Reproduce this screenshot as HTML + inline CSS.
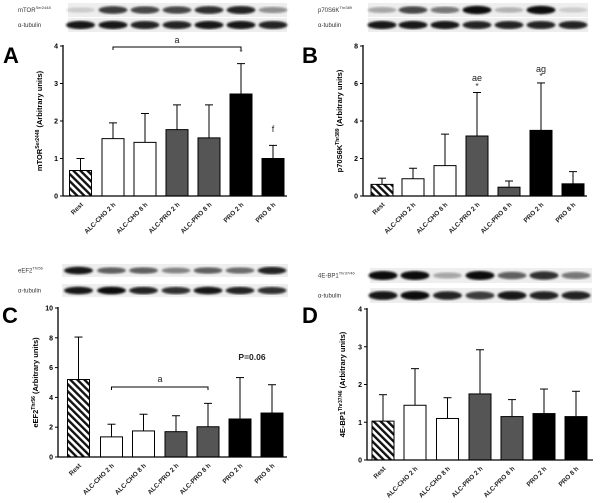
<!DOCTYPE html>
<html><head><meta charset="utf-8"><style>
html,body{margin:0;padding:0;background:#fff;}
svg{display:block;font-family:"Liberation Sans",Arial,sans-serif;}
</style></head><body>
<svg id="s" width="600" height="503" viewBox="0 0 600 503" xmlns="http://www.w3.org/2000/svg">
<defs>
<pattern id="hatch" patternUnits="userSpaceOnUse" width="5" height="5" patternTransform="rotate(-45)">
<rect width="5" height="5" fill="#fff"/><rect width="2.4" height="5" fill="#111"/>
</pattern>
<filter id="blur"><feGaussianBlur stdDeviation="1.1"/></filter>
</defs>
</svg>
<script>
const S=document.getElementById('s');const NS='http://www.w3.org/2000/svg';
function el(t,a,txt){const e=document.createElementNS(NS,t);for(const k in a)e.setAttribute(k,a[k]);if(txt!==undefined)e.textContent=txt;S.appendChild(e);return e;}
const names=['Rest','ALC-CHO 2 h','ALC-CHO 8 h','ALC-PRO 2 h','ALC-PRO 8 h','PRO 2 h','PRO 8 h'];
const fills=['url(#hatch)','#fff','#fff','#555','#555','#000','#000'];
function blot(x0,x1,y,h,centers,op){
  el('rect',{x:x0,y:y,width:x1-x0,height:h,fill:'#eeeeee'});
  centers.forEach((c,i)=>{if(op[i]>0)el('ellipse',{cx:c,cy:y+h/2,rx:14.5,ry:h*0.28*(0.6+op[i]*0.5),fill:'#000','fill-opacity':op[i],filter:'url(#blur)'});});
}
function panel(p){
  const {ax,y0,ytop,xend,max,step,centers,vals,errs,letter,lx,ly,sup}=p;
  const sc=(y0-ytop)/max;
  blot(p.bx0,p.bx1,p.b1y,p.bh,centers,p.b1);
  blot(p.bx0,p.bx1,p.b2y,p.bh,centers,p.b2);
  const t1=el('text',{x:p.blx,y:p.b1y+p.bh/2+2,'font-size':6,fill:'#333'});t1.textContent=p.bname;
  el('tspan',{'font-size':4,dy:-3},sup);t1.appendChild(S.lastChild);
  el('text',{x:p.blx,y:p.b2y+p.bh/2+2,'font-size':6,fill:'#333'},'α-tubulin');
  el('text',{x:lx,y:ly,'font-size':22,'font-weight':'bold'},letter);
  centers.forEach((c,i)=>{
    const ty=y0-errs[i]*sc, by=y0-vals[i]*sc;
    el('line',{x1:c,y1:by,x2:c,y2:ty,stroke:'#000','stroke-width':1});
    el('line',{x1:c-4,y1:ty,x2:c+4,y2:ty,stroke:'#000','stroke-width':1});
    el('rect',{x:c-11,y:by,width:22,height:y0-by,fill:fills[i],stroke:'#000','stroke-width':1});
    el('text',{x:c+3,y:y0+9,'font-size':6.5,'font-weight':'bold','text-anchor':'end',transform:`rotate(-45 ${c+3} ${y0+9})`,fill:'#222'},names[i]);
  });
  el('line',{x1:ax,y1:ytop-1,x2:ax,y2:y0,stroke:'#000','stroke-width':1.3});
  el('line',{x1:ax,y1:y0,x2:xend,y2:y0,stroke:'#000','stroke-width':1.3});
  for(let v=0;v<=max;v+=step){const y=y0-v*sc;
    el('line',{x1:ax-3,y1:y,x2:ax,y2:y,stroke:'#000','stroke-width':1});
    el('text',{x:ax-5,y:y+2.5,'font-size':7,'font-weight':'bold','text-anchor':'end'},v);}
  const yc=(y0+ytop)/2;
  const t=el('text',{x:p.ylx,y:yc,'font-size':7.5,'font-weight':'bold','text-anchor':'middle',transform:`rotate(-90 ${p.ylx} ${yc})`});
  t.textContent=p.bname;const ts=document.createElementNS(NS,'tspan');ts.setAttribute('font-size',5);ts.setAttribute('dy',-3);ts.textContent=sup;t.appendChild(ts);
  const ts2=document.createElementNS(NS,'tspan');ts2.setAttribute('dy',3);ts2.textContent=' (Arbitrary units)';t.appendChild(ts2);
  (p.extra||[]).forEach(f=>f(sc));
}
function bracket(x1,x2,y){el('path',{d:`M${x1} ${y+3}V${y}H${x2}V${y+3}`,fill:'none',stroke:'#000','stroke-width':1});}
function txt(x,y,s,o){el('text',Object.assign({x:x,y:y,'font-size':9,'text-anchor':'middle',fill:'#222'},o||{}),s);}
const cA=[80.5,113,145,177,209,241,273];
panel({ax:63,y0:196,ytop:46,xend:287,max:4,step:1,centers:cA,
 vals:[0.68,1.53,1.43,1.77,1.55,2.72,1.0],errs:[1.0,1.95,2.2,2.43,2.43,3.53,1.35],
 letter:'A',lx:3,ly:63,bname:'mTOR',sup:'Ser2448',ylx:42,
 bx0:68,bx1:287,b1y:3,b2y:18,bh:14,blx:18,b1:[0.15,0.75,0.7,0.7,0.8,0.85,0.4],b2:[0.9,0.9,0.85,0.85,0.9,0.9,0.85],
 extra:[()=>{bracket(113,241,47);txt(177,43,'a');txt(241,55,'*',{'font-size':8});txt(273,132,'f');}]});
const cB=[382,413,445,477,509,541,573];
panel({ax:363,y0:196,ytop:46,xend:587,max:8,step:2,centers:cB,
 vals:[0.62,0.92,1.62,3.2,0.47,3.5,0.65],errs:[0.95,1.48,3.3,5.52,0.8,6.03,1.3],
 letter:'B',lx:302,ly:63,bname:'p70S6K',sup:'Thr389',ylx:342,
 bx0:368,bx1:588,b1y:3,b2y:18,bh:14,blx:318,b1:[0.3,0.7,0.5,0.95,0.25,0.95,0.15],b2:[0.9,0.9,0.9,0.85,0.85,0.85,0.85],
 extra:[()=>{txt(477,81,'ae');txt(477,89,'*',{'font-size':8});txt(541,72,'ag');txt(541,79,'*',{'font-size':8});}]});
const cC=[78.5,111.5,143.5,176,208,240,272];
panel({ax:58,y0:457,ytop:308,xend:287,max:10,step:2,centers:cC,
 vals:[5.2,1.35,1.75,1.7,2.03,2.55,2.95],errs:[8.05,2.2,2.87,2.77,3.6,5.33,4.85],
 letter:'C',lx:2,ly:323,bname:'eEF2',sup:'Thr56',ylx:38,
 bx0:62,bx1:288,b1y:264,b2y:284,bh:13,blx:18,b1:[0.9,0.6,0.6,0.45,0.6,0.55,0.85],b2:[0.9,0.95,0.85,0.8,0.9,0.85,0.8],
 extra:[()=>{bracket(111.5,208,387);txt(160,382,'a');txt(252,360,'P=0.06',{'font-weight':'bold','font-size':8.5});}]});
const cD=[383,415,447.5,480,512,544,576];
panel({ax:367,y0:460,ytop:309,xend:593,max:4,step:1,centers:cD,
 vals:[1.03,1.45,1.1,1.75,1.15,1.23,1.15],errs:[1.73,2.42,1.65,2.92,1.6,1.88,1.82],
 letter:'D',lx:302,ly:323,bname:'4E-BP1',sup:'Thr37/46',ylx:345,
 bx0:370,bx1:592,b1y:268,b2y:288,bh:15,blx:318,b1:[0.95,0.95,0.3,0.95,0.6,0.8,0.5],b2:[0.9,0.95,0.85,0.75,0.9,0.85,0.85],
 extra:[]});
</script>
</body></html>
